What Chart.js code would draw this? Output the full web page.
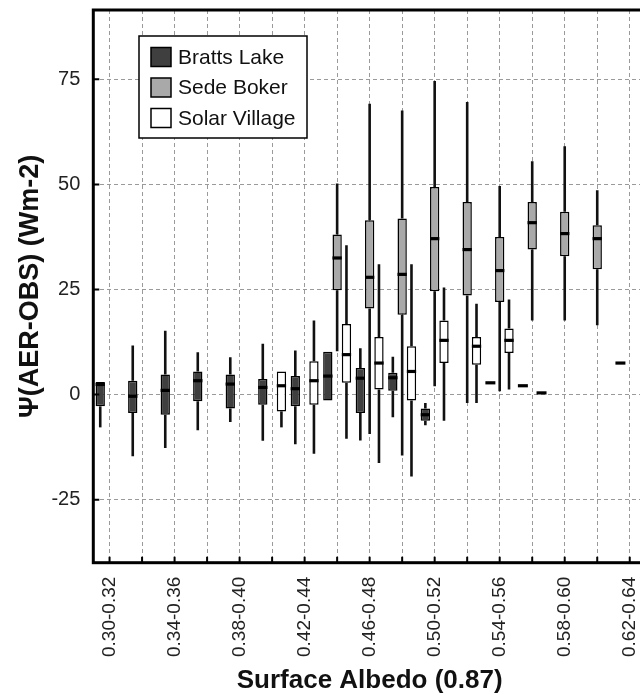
<!DOCTYPE html>
<html>
<head>
<meta charset="utf-8">
<script src="https://cdn.jsdelivr.net/npm/chart.js@4"></script>
<style>
  body { margin: 0; overflow: hidden; background: #fff; }
  #wrap { width: 660px; height: 698px; }
</style>
</head>
<body>
<div id="wrap"><canvas id="boxChart"></canvas></div>
<script>
// albedo bins on the x axis
const categories = ["0.30-0.32", "0.32-0.34", "0.34-0.36", "0.36-0.38", "0.38-0.40",
  "0.40-0.42", "0.42-0.44", "0.44-0.46", "0.46-0.48", "0.48-0.50", "0.50-0.52",
  "0.52-0.54", "0.54-0.56", "0.56-0.58", "0.58-0.60", "0.60-0.62", "0.62-0.64"];
const yTicks = [-25, 0, 25, 50, 75];

// Bratts Lake: whisker low, q1, median, q3, whisker high
const brattsMin = [-7.8, -14.7, -12.7, -8.5, -6.5, -11.0, -11.8, -1.4, -10.9, -5.4, -7.3, null, 2.8, 2.1, null, null, 7.5];
const brattsQ1  = [-2.8, -4.4, -4.8, -1.6, -3.3, -2.4, -2.8, -1.4, -4.4, 0.9, -6.2, null, 2.8, 2.1, null, null, 7.5];
const brattsMed = [2.4, -0.4, 1.0, 3.3, 2.5, 1.7, 1.4, 4.4, 3.9, 4.0, -4.8, null, 2.8, 2.1, null, null, 7.5];
const brattsQ3  = [3.0, 3.3, 4.8, 5.5, 4.8, 3.7, 4.4, 10.2, 6.3, 5.2, -3.3, null, 2.8, 2.1, null, null, 7.5];
const brattsMax = [3.0, 11.7, 15.2, 10.1, 8.9, 12.1, 10.5, 10.2, 11.0, 9.0, -2.0, null, 2.8, 2.1, null, null, 7.5];

// Sede Boker
const sedeMin = [null, null, null, null, null, null, null, 10.3, -9.4, -14.5, 2.0, -2.0, 0.8, 17.6, 17.6, 16.5, null];
const sedeQ1  = [null, null, null, null, null, null, null, 24.8, 20.5, 19.0, 24.6, 23.6, 22.0, 34.5, 32.9, 29.8, null];
const sedeMed = [null, null, null, null, null, null, null, 32.5, 27.9, 28.6, 37.1, 34.5, 29.5, 40.9, 38.3, 37.1, null];
const sedeQ3  = [null, null, null, null, null, null, null, 38.1, 41.5, 41.9, 49.4, 45.8, 37.5, 45.8, 43.5, 40.3, null];
const sedeMax = [null, null, null, null, null, null, null, 50.2, 69.2, 67.6, 74.6, 69.6, 49.6, 55.5, 59.1, 48.6, null];

// Solar Village
const solarMin = [null, null, null, null, null, -7.8, -14.1, -10.5, -16.3, -19.5, -6.2, -2.0, 1.2, 0.4, null, null, null];
const solarQ1  = [null, null, null, null, null, -4.0, -2.4, 2.8, 1.2, -1.4, 7.5, 7.1, 9.9, 0.4, null, null, null];
const solarMed = [null, null, null, null, null, 2.1, 3.3, 9.5, 7.5, 5.5, 12.9, 11.5, 12.9, 0.4, null, null, null];
const solarQ3  = [null, null, null, null, null, 5.5, 7.9, 16.8, 13.7, 11.5, 17.6, 13.7, 15.7, 0.4, null, null, null];
const solarMax = [null, null, null, null, null, 5.5, 17.6, 35.5, 31.0, 31.0, 25.5, 21.6, 22.6, 0.4, null, null, null];

const stations = [
  { name: "Bratts Lake", color: "#3f3f3f", min: brattsMin, q1: brattsQ1, med: brattsMed, q3: brattsQ3, max: brattsMax },
  { name: "Sede Boker", color: "#a9a9a9", min: sedeMin, q1: sedeQ1, med: sedeMed, q3: sedeQ3, max: sedeMax },
  { name: "Solar Village", color: "#ffffff", min: solarMin, q1: solarQ1, med: solarMed, q3: solarQ3, max: solarMax },
];

// boxes are floating bars from q1 to q3
const datasets = stations.map(function (s) {
  return {
    label: s.name,
    data: s.q1.map(function (v, i) {
      return v === null ? null : [v, s.q3[i]];
    }),
    backgroundColor: s.color,
    borderColor: "#000",
    borderWidth: 1.5,
    borderSkipped: false,
  };
});

// whiskers under the boxes, medians on top, frame and legend last
const boxPlotPlugin = {
  id: "boxPlot",
  beforeDatasetsDraw(chart) {
    const ctx = chart.ctx;
    const y = chart.scales.y;
    ctx.save();
    ctx.strokeStyle = "#111";
    ctx.lineWidth = 2.6;
    stations.forEach(function (s, d) {
      chart.getDatasetMeta(d).data.forEach(function (bar, i) {
        if (s.min[i] === null) return;
        ctx.beginPath();
        ctx.moveTo(bar.x, y.getPixelForValue(s.max[i]));
        ctx.lineTo(bar.x, y.getPixelForValue(s.q3[i]));
        ctx.moveTo(bar.x, y.getPixelForValue(s.q1[i]));
        ctx.lineTo(bar.x, y.getPixelForValue(s.min[i]));
        ctx.stroke();
      });
    });
    ctx.restore();
  },
  afterDatasetsDraw(chart) {
    const ctx = chart.ctx;
    const y = chart.scales.y;
    ctx.save();
    ctx.strokeStyle = "#000";
    ctx.lineWidth = 3.2;
    stations.forEach(function (s, d) {
      chart.getDatasetMeta(d).data.forEach(function (bar, i) {
        if (s.med[i] === null) return;
        const py = y.getPixelForValue(s.med[i]);
        const half = s.q1[i] === s.q3[i] ? 5 : bar.width / 2;
        ctx.beginPath();
        ctx.moveTo(bar.x - half, py);
        ctx.lineTo(bar.x + half, py);
        ctx.stroke();
      });
    });
    ctx.restore();
  },
  afterDraw(chart) {
    const ctx = chart.ctx;
    const a = chart.chartArea;
    const x = chart.scales.x;
    const y = chart.scales.y;
    ctx.save();
    // inward tick marks
    ctx.strokeStyle = "#000";
    ctx.lineWidth = 2;
    ctx.beginPath();
    categories.forEach(function (c, i) {
      const px = x.getPixelForValue(i);
      ctx.moveTo(px, a.bottom);
      ctx.lineTo(px, a.bottom - 6);
    });
    yTicks.forEach(function (v) {
      const py = y.getPixelForValue(v);
      ctx.moveTo(a.left, py);
      ctx.lineTo(a.left + 6, py);
    });
    ctx.stroke();
    // frame
    ctx.lineWidth = 3;
    ctx.strokeRect(a.left, a.top, a.right - a.left, a.bottom - a.top);

    // legend box
    const lx = 139, ly = 36;
    ctx.fillStyle = "#fff";
    ctx.fillRect(lx, ly, 168, 102);
    ctx.lineWidth = 1.5;
    ctx.strokeRect(lx, ly, 168, 102);
    ctx.font = '21px "Liberation Sans", Arial, sans-serif';
    ctx.textBaseline = "middle";
    stations.forEach(function (s, i) {
      const ry = ly + 21 + i * 30.5;
      ctx.fillStyle = s.color;
      ctx.fillRect(lx + 12, ry - 9.5, 20, 19);
      ctx.strokeStyle = "#000";
      ctx.strokeRect(lx + 12, ry - 9.5, 20, 19);
      ctx.fillStyle = "#111";
      ctx.fillText(s.name, lx + 39, ry + 1);
    });
    ctx.restore();
  },
};

const ctx = document.getElementById("boxChart");

new Chart(ctx, {
  type: "bar",
  data: {
    labels: categories,
    datasets: datasets,
  },
  plugins: [boxPlotPlugin],
  options: {
    responsive: true,
    maintainAspectRatio: false,
    animation: false,
    categoryPercentage: 0.86,
    barPercentage: 1.0,
    layout: {
      padding: { top: 10, right: 14, bottom: 0, left: 0 },
    },
    scales: {
      x: {
        afterFit: function (scale) {
          scale.height = 135.3;
          scale.paddingLeft = 0;
          scale.paddingRight = 0;
        },
        grid: {
          offset: false,
          drawTicks: false,
          color: "#9a9a9a",
          lineWidth: 1,
        },
        border: { display: false, dash: [4, 3] },
        ticks: {
          autoSkip: false,
          minRotation: 90,
          maxRotation: 90,
          padding: 14,
          color: "#222",
          font: { family: '"Liberation Sans", Arial, sans-serif', size: 19 },
          callback: function (value, index) {
            return index % 2 === 0 ? categories[index] : "";
          },
        },
        title: {
          display: true,
          text: "Surface Albedo (0.87)",
          color: "#111",
          padding: { top: 0, bottom: 2 },
          font: { family: '"Liberation Sans", Arial, sans-serif', size: 26, weight: "bold" },
        },
      },
      y: {
        min: -40,
        max: 91.5,
        afterFit: function (scale) {
          scale.width = 93.3;
          scale.paddingTop = 0;
          scale.paddingBottom = 0;
        },
        afterBuildTicks: function (scale) {
          scale.ticks = yTicks.map(function (v) {
            return { value: v };
          });
        },
        grid: {
          drawTicks: false,
          color: "#9a9a9a",
          lineWidth: 1,
        },
        border: { display: false, dash: [4, 3] },
        ticks: {
          padding: 13,
          color: "#222",
          font: { family: '"Liberation Sans", Arial, sans-serif', size: 20 },
        },
        title: {
          display: true,
          text: "Ψ(AER-OBS) (Wm-2)",
          color: "#111",
          padding: { top: 14, bottom: 0 },
          font: { family: '"Liberation Sans", Arial, sans-serif', size: 27, weight: "bold" },
        },
      },
    },
    plugins: {
      legend: { display: false },
      tooltip: { enabled: false },
    },
  },
});
</script>
</body>
</html>
